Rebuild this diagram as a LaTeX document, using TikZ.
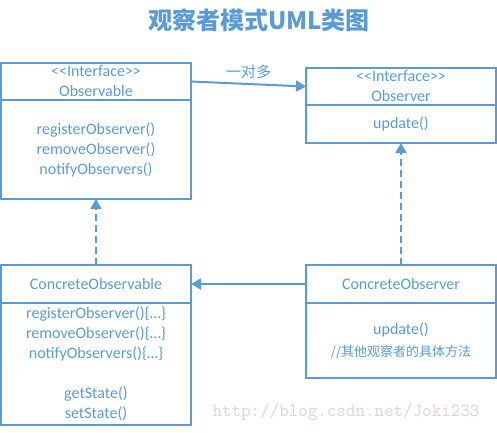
\documentclass[tikz,border=0pt]{standalone}
\usepackage{fontspec}
\setmainfont{Carlito}
\newfontfamily\cjk{Noto Sans CJK SC}
\usetikzlibrary{arrows.meta,positioning}

\definecolor{umlblue}{HTML}{5B9BD5}
\definecolor{wmgrey}{RGB}{222,212,208}

\tikzset{
    umlbox/.style={draw=umlblue, line width=1.4pt, minimum width=190pt,
        inner sep=0pt, outer sep=0pt, align=center, text=umlblue,
        font=\fontsize{16}{20}\selectfont},
    relation/.style={draw=umlblue, line width=2pt,
        -{Triangle[length=10pt,width=11pt]}},
    realize/.style={relation, dash pattern=on 7pt off 4pt},
}

\begin{document}
\begin{tikzpicture}[x=1pt, y=-1pt]
            \useasboundingbox (0,0) rectangle (497,432);

            \node[font=\cjk\bfseries\fontsize{24}{28}\selectfont, text=umlblue]
                (title) at (259,20.5) {观察者模式UML类图};

            % interfaces
            \node[umlbox, minimum height=37pt, anchor=north west]
                (obsablehead) at (1,63) {<\kern0pt<Interface>\kern0pt>\\Observable};
            \node[umlbox, minimum height=99pt, below=0pt of obsablehead]
                (obsablebody) {registerObserver()\\removeObserver()\\notifyObservers()};

            \node[umlbox, minimum height=37pt, anchor=north west]
                (obsverhead) at (306,68) {<\kern0pt<Interface>\kern0pt>\\Observer};
            \node[umlbox, minimum height=38pt, below=0pt of obsverhead]
                (obsverbody) {update()};

            % concrete classes
            \node[umlbox, minimum height=38pt, anchor=north west]
                (cobsablehead) at (1,265) {ConcreteObservable};
            \node[umlbox, minimum height=122pt, below=0pt of cobsablehead]
                (cobsablebody) {registerObserver()\{…\}\\removeObserver()\{…\}\\
                    notifyObservers()\{…\}\\[20pt]getState()\\setState()};

            \node[umlbox, minimum height=38pt, anchor=north west]
                (cobsverhead) at (306,265) {ConcreteObserver};
            \node[umlbox, minimum height=75pt, below=0pt of cobsverhead]
                (cobsverbody) {update()\\[2pt]
                    {\cjk\fontsize{13}{16}\selectfont //其他观察者的具体方法}};

            \node[font=\ttfamily\fontsize{18.5}{20}\selectfont, text=wmgrey]
                (watermark) at (346,412) {http://blog.csdn.net/Joki233};

            \draw[relation] (obsablehead.east) --
                node[above=1pt, text=umlblue, font=\cjk\fontsize{15}{18}\selectfont]
                (onetomany) {一对多} (obsverhead.west);
            \draw[relation] (cobsverhead.west) -- (cobsablehead.east);

            \foreach \a/\b in {cobsablehead/obsablebody, cobsverhead/obsverbody} {
                \draw[realize] (\a.north) -- (\b.south);
            }
        \end{tikzpicture}
\end{document}
